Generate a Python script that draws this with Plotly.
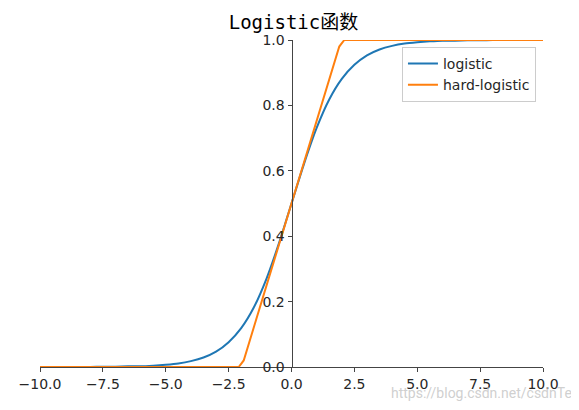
import plotly.graph_objects as go

# logistic curve
logistic_x = [-10, -9.5, -9, -8.5, -8, -7.5, -7, -6.5, -6, -5.5, -5, -4.5, -4, -3.5, -3,
              -2.5, -2, -1.5, -1, -0.5, 0, 0.5, 1, 1.5, 2, 2.5, 3, 3.5, 4, 4.5, 5,
              5.5, 6, 6.5, 7, 7.5, 8, 8.5, 9, 9.5, 10]
logistic_y = [0.000, 0.000, 0.000, 0.000, 0.000, 0.001, 0.001, 0.002, 0.002, 0.004, 0.007,
              0.011, 0.018, 0.029, 0.047, 0.076, 0.119, 0.182, 0.269, 0.378, 0.500,
              0.622, 0.731, 0.818, 0.881, 0.924, 0.953, 0.971, 0.982, 0.989, 0.993,
              0.996, 0.998, 0.998, 0.999, 0.999, 1.000, 1.000, 1.000, 1.000, 1.000]

# hard-logistic corners
hard_x = [-10, -2.1, -1.9, 1.9, 2.1, 10]
hard_y = [0.0, 0.0, 0.02, 0.98, 1.0, 1.0]

x_ticks = [-10, -7.5, -5, -2.5, 0, 2.5, 5, 7.5, 10]
y_ticks = [0.0, 0.2, 0.4, 0.6, 0.8, 1.0]

AXIS_COLOR = '#444444'
TICK_FONT = dict(family='DejaVu Sans', size=14, color='#262626')

fig = go.Figure()
fig.add_trace(go.Scatter(x=logistic_x, y=logistic_y, mode='lines', name='logistic',
                         line=dict(color='#1f77b4', width=2, shape='spline', smoothing=0.6)))
fig.add_trace(go.Scatter(x=hard_x, y=hard_y, mode='lines', name='hard-logistic',
                         line=dict(color='#ff7f0e', width=2)))

# page body has an 8px margin, so the figure is a bit smaller than the window
fig.update_layout(
    width=571, height=402,
    margin=dict(l=32, r=36, t=32, b=43),
    paper_bgcolor='white', plot_bgcolor='white',
    title=dict(text='Logistic函数', x=0.5, xanchor='center', y=0.965, yanchor='middle',
               font=dict(family='DejaVu Sans Mono, Noto Sans CJK SC', size=19, color='black')),
    xaxis=dict(range=[-10, 10], tickvals=x_ticks, automargin=False,
               ticktext=['\u221210.0', '\u22127.5', '\u22125.0', '\u22122.5', '0.0', '2.5', '5.0', '7.5', '10.0'],
               showgrid=False, zeroline=False, showline=True, linecolor=AXIS_COLOR, linewidth=1,
               ticks='outside', ticklen=4, tickcolor=AXIS_COLOR, tickfont=TICK_FONT),
    yaxis=dict(range=[0, 1], tickvals=y_ticks, ticktext=['0.0', '0.2', '0.4', '0.6', '0.8', '1.0'],
               anchor='free', position=0.5, automargin=False,
               showgrid=False, zeroline=False, showline=True, linecolor=AXIS_COLOR, linewidth=1,
               ticks='outside', ticklen=4, tickcolor=AXIS_COLOR, tickfont=TICK_FONT),
    legend=dict(x=0.986, y=0.979, xanchor='right', yanchor='top',
                bgcolor='rgba(255,255,255,0.8)', bordercolor='#cccccc', borderwidth=1,
                font=dict(family='DejaVu Sans', size=14, color='#262626')),
    showlegend=True,
)

fig.add_annotation(text='https://blog.csdn.net/csdnTe', xref='paper', yref='paper',
                   x=1.062, y=-0.08, xanchor='right', yanchor='middle', showarrow=False,
                   font=dict(family='Roboto', size=14, color='rgba(195,195,195,0.8)'))

fig.write_html('out.html')
